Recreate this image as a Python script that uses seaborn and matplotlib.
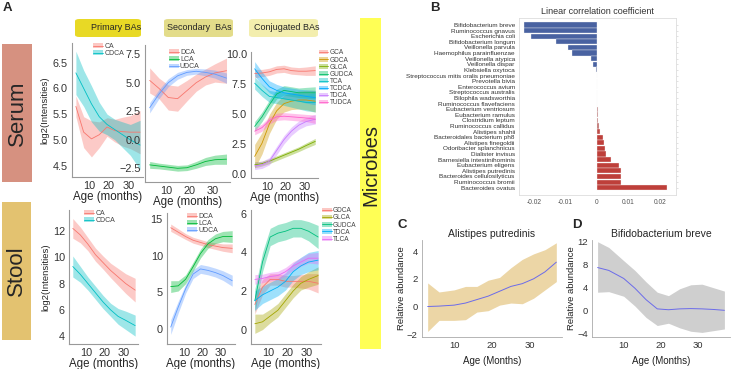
import numpy as np
import pandas as pd
import matplotlib
matplotlib.use("Agg")
import matplotlib.pyplot as plt
import seaborn as sns
from matplotlib.patches import FancyBboxPatch, Rectangle, Patch
from matplotlib.lines import Line2D

#-DATA------------------------------------------------------------------------------------------

age = [3, 7, 11, 15, 19, 23, 27, 31, 36]

# serum, primary BAs (mean and half width of the smoothing band)
serum_ca = [5.65, 5.15, 5.02, 5.1, 5.25, 5.18, 5.16, 5.15, 5.15]
serum_ca_hw = [0.2, 0.3, 0.35, 0.25, 0.18, 0.22, 0.28, 0.32, 0.42]
serum_cdca = [6.3, 6.0, 5.7, 5.45, 5.3, 5.2, 5.1, 5.0, 4.9]
serum_cdca_hw = [0.42, 0.35, 0.35, 0.28, 0.2, 0.2, 0.25, 0.3, 0.48]

# serum, secondary BAs
serum_dca = [5.2, 4.5, 3.7, 3.6, 4.3, 5.0, 5.5, 5.85, 6.05]
serum_dca_hw = [1.1, 0.9, 1.1, 1.1, 0.9, 0.75, 0.7, 0.8, 1.1]
serum_lca = [-2.2, -2.3, -2.4, -2.5, -2.45, -2.2, -1.9, -1.75, -1.7]
serum_lca_hw = [0.3, 0.25, 0.25, 0.25, 0.25, 0.3, 0.35, 0.4, 0.45]
serum_udca = [2.8, 4.0, 5.0, 5.6, 5.9, 6.0, 5.9, 5.75, 5.4]
serum_udca_hw = [0.45, 0.4, 0.35, 0.3, 0.25, 0.25, 0.3, 0.35, 0.45]

# serum, conjugated BAs
serum_gca = [8.4, 8.45, 8.55, 8.75, 8.8, 8.65, 8.6, 8.6, 8.65]
serum_gca_hw = [0.35, 0.3, 0.3, 0.3, 0.3, 0.3, 0.3, 0.35, 0.4]
serum_gdca = [1.5, 2.6, 4.2, 5.3, 5.9, 6.1, 6.2, 6.2, 6.1]
serum_gdca_hw = [1.0, 0.9, 0.8, 0.7, 0.7, 0.7, 0.75, 0.8, 0.9]
serum_glca = [0.8, 0.9, 1.1, 1.35, 1.6, 1.85, 2.1, 2.4, 2.75]
serum_glca_hw = [0.25, 0.2, 0.2, 0.2, 0.2, 0.2, 0.2, 0.22, 0.25]
serum_gudca = [4.0, 4.8, 5.8, 6.7, 7.0, 6.9, 6.8, 6.8, 6.8]
serum_gudca_hw = [0.4, 0.4, 0.4, 0.4, 0.4, 0.4, 0.4, 0.45, 0.5]
serum_tca = [7.6, 7.0, 6.5, 6.4, 6.3, 6.2, 6.1, 6.0, 6.0]
serum_tca_hw = [0.5, 0.5, 0.5, 0.5, 0.55, 0.6, 0.65, 0.7, 0.8]
serum_tcdca = [8.8, 8.0, 7.3, 7.0, 6.8, 6.7, 6.6, 6.5, 6.4]
serum_tcdca_hw = [0.6, 0.55, 0.5, 0.5, 0.5, 0.5, 0.5, 0.55, 0.6]
serum_tdca = [0.7, 0.8, 1.1, 2.0, 2.9, 3.6, 4.1, 4.4, 4.6]
serum_tdca_hw = [0.3, 0.3, 0.3, 0.35, 0.35, 0.35, 0.35, 0.35, 0.4]
serum_tudca = [3.6, 3.9, 4.5, 4.8, 4.85, 4.8, 4.75, 4.7, 4.6]
serum_tudca_hw = [0.3, 0.3, 0.3, 0.3, 0.3, 0.3, 0.3, 0.3, 0.35]

# stool, primary BAs
stool_ca = [12.2, 11.7, 11.0, 10.2, 9.6, 9.0, 8.5, 8.0, 7.5]
stool_ca_hw = [0.75, 0.6, 0.5, 0.5, 0.5, 0.55, 0.65, 0.75, 0.9]
stool_cdca = [9.3, 8.7, 8.0, 7.3, 6.6, 6.0, 5.5, 5.2, 4.8]
stool_cdca_hw = [0.8, 0.6, 0.5, 0.5, 0.5, 0.5, 0.6, 0.7, 0.8]

# stool, secondary BAs
stool_dca = [13.8, 13.2, 12.6, 12.1, 11.8, 11.5, 11.3, 11.1, 11.0]
stool_dca_hw = [0.5, 0.45, 0.4, 0.4, 0.4, 0.4, 0.45, 0.5, 0.6]
stool_lca = [5.8, 5.9, 6.8, 8.5, 10.3, 11.6, 12.3, 12.6, 12.6]
stool_lca_hw = [0.8, 0.7, 0.6, 0.6, 0.6, 0.6, 0.65, 0.7, 0.8]
stool_udca = [0.3, 3.0, 5.5, 7.5, 8.2, 8.0, 7.7, 7.3, 6.6]
stool_udca_hw = [1.0, 0.8, 0.6, 0.6, 0.6, 0.6, 0.6, 0.65, 0.75]

# stool, conjugated BAs
stool_gdca = [1.3, 2.2, 2.6, 2.6, 2.5, 2.5, 2.5, 2.5, 2.4]
stool_gdca_hw = [0.5, 0.4, 0.3, 0.3, 0.3, 0.3, 0.35, 0.4, 0.5]
stool_glca = [0.3, 0.4, 0.7, 1.0, 1.5, 2.0, 2.4, 2.6, 2.8]
stool_glca_hw = [0.5, 0.4, 0.35, 0.35, 0.35, 0.35, 0.35, 0.4, 0.45]
stool_gudca = [1.5, 3.5, 4.8, 5.0, 5.1, 5.25, 5.25, 5.1, 4.8]
stool_gudca_hw = [0.6, 0.5, 0.45, 0.45, 0.45, 0.45, 0.45, 0.5, 0.6]
stool_tdca = [1.5, 1.8, 2.0, 2.2, 2.5, 3.0, 3.3, 3.5, 3.6]
stool_tdca_hw = [0.5, 0.45, 0.45, 0.45, 0.45, 0.45, 0.45, 0.5, 0.5]
stool_tlca = [2.6, 2.65, 2.75, 2.8, 3.0, 3.3, 3.5, 3.7, 3.7]
stool_tlca_hw = [0.25, 0.22, 0.22, 0.22, 0.22, 0.22, 0.22, 0.25, 0.3]

# panel B
microbes = ["Bifidobacterium breve", "Ruminococcus gnavus", "Escherichia coli",
            "Bifidobacterium longum", "Veillonella parvula", "Haemophilus parainfluenzae",
            "Veillonella atypica", "Veillonella dispar", "Klebsiella oxytoca",
            "Streptococcus mitis oralis pneumoniae", "Prevotella bivia", "Enterococcus avium",
            "Streptococcus australis", "Bilophila wadsworthia", "Ruminococcus flavefaciens",
            "Eubacterium ventriosum", "Eubacterium ramulus", "Clostridium leptum",
            "Ruminococcus callidus", "Alistipes shahii", "Bacteroidales bacterium ph8",
            "Alistipes finegoldii", "Odoribacter splanchnicus", "Dialister invisus",
            "Barnesiella intestinihominis", "Eubacterium eligens", "Alistipes putredinis",
            "Bacteroides cellulosilyticus", "Ruminococcus bromii", "Bacteroides ovatus"]
corr = [-0.0233, -0.0231, -0.0210, -0.0129, -0.0091, -0.0079, -0.0018, -0.0013, -0.0004,
        -0.0001, -0.00008, -0.00005, -0.00003, -0.00001, 0.00001, 0.0002, 0.0003, 0.0004,
        0.0005, 0.0010, 0.0018, 0.0021, 0.0026, 0.0030, 0.0045, 0.0070, 0.0075, 0.0076,
        0.0075, 0.0223]

# panels C and D
age_cd = [3, 6, 10, 13, 16, 19, 22, 25, 28, 31, 34, 37]
alistipes = [0.0, 0.03, 0.1, 0.25, 0.5, 0.75, 1.1, 1.45, 1.65, 2.0, 2.5, 3.2]
alistipes_hi = [1.7, 1.05, 1.2, 1.45, 1.45, 1.9, 2.1, 2.8, 3.4, 3.8, 4.1, 4.6]
alistipes_lo = [-1.8, -1.0, -1.0, -0.95, -0.4, -0.3, 0.1, 0.25, 0.2, 0.6, 1.2, 1.8]
bifido = [7.5, 7.0, 5.6, 3.9, 1.9, 0.3, 0.15, 0.3, 0.35, 0.3, 0.2, 0.05]
bifido_hi = [12.0, 11.0, 8.7, 7.0, 5.0, 3.2, 2.6, 3.8, 4.5, 4.6, 4.0, 3.4]
bifido_lo = [3.2, 3.3, 2.5, 0.8, -1.2, -2.6, -2.2, -3.0, -3.6, -3.8, -3.5, -3.2]

#-FIGURE----------------------------------------------------------------------------------------

sns.set_style("white")
plt.rcParams["font.family"] = ["Liberation Sans", "DejaVu Sans"]

W, H = 738, 369
fig = plt.figure(figsize=(W / 100, H / 100), dpi=100)


def box(x0, y0, x1, y1):
    # pixel box (top-left origin) -> figure fraction rect
    return [x0 / W, 1 - y1 / H, (x1 - x0) / W, (y1 - y0) / H]


def fig_rect(x0, y0, x1, y1, color, rounded=False):
    l, b, w, h = box(x0, y0, x1, y1)
    if rounded:
        p = FancyBboxPatch((l, b), w, h, boxstyle="round,pad=0,rounding_size=0.006",
                           transform=fig.transFigure, facecolor=color, edgecolor="none")
    else:
        p = Rectangle((l, b), w, h, transform=fig.transFigure, facecolor=color, edgecolor="none")
    fig.patches.append(p)


def ribbon_panel(rect, names, means, widths, colors, ylim, yticks, ylabel=None,
                 legend_out=False, legend_pos=(0.05, 1.0)):
    ax = fig.add_axes(box(*rect))
    for m, hw, c in zip(means, widths, colors):
        m = np.array(m)
        hw = np.array(hw)
        ax.fill_between(age, m - hw, m + hw, color=c, alpha=0.38, lw=0)
    df = pd.DataFrame({"age": age * len(names),
                       "value": np.concatenate(means),
                       "acid": np.repeat(names, len(age))})
    sns.lineplot(data=df, x="age", y="value", hue="acid", hue_order=names,
                 palette=colors, lw=0.6, ax=ax, legend=False)
    ax.set_xlim(1, 37.5)
    ax.set_ylim(*ylim)
    ax.set_xticks([10, 20, 30])
    ax.set_yticks(yticks)
    ax.tick_params(labelsize=7.8, length=2, width=0.5, color="#555555", pad=1,
                   labelcolor="#333333")
    for s in ["top", "right"]:
        ax.spines[s].set_visible(False)
    for s in ["left", "bottom"]:
        ax.spines[s].set_color("#999999")
        ax.spines[s].set_linewidth(0.8)
    ax.set_xlabel("Age (months)", fontsize=8.3, labelpad=0)
    ax.set_ylabel(ylabel if ylabel else "", fontsize=6.8, labelpad=2)
    handles = [(Patch(facecolor=c, alpha=0.4, edgecolor="none"), Line2D([], [], color=c, lw=0.6))
               for c in colors]
    if legend_out:
        leg = ax.legend(handles, names, loc="upper left", bbox_to_anchor=(1.02, 1.02),
                        fontsize=4.7, frameon=False, handlelength=1.4, handleheight=0.7,
                        labelspacing=0.02, handletextpad=0.2, borderpad=0, borderaxespad=0)
    else:
        leg = ax.legend(handles, names, loc="upper left", bbox_to_anchor=legend_pos,
                        fontsize=5, frameon=False, handlelength=1.4, handleheight=0.7,
                        labelspacing=0.02, handletextpad=0.2, borderpad=0, borderaxespad=0)
    for t in leg.get_texts():
        t.set_color("#444444")
    return ax


pal2 = ["#F8766D", "#00BFC4"]
pal3 = ["#F8766D", "#00BA38", "#619CFF"]
pal5 = ["#F8766D", "#A3A500", "#00BF7D", "#00B0F6", "#E76BF3"]
pal8 = ["#F8766D", "#CD9600", "#7CAE00", "#00BE67", "#00BFC4", "#00A9FF", "#C77CFF", "#FF61CC"]

# side and header boxes
fig_rect(2, 44, 32, 182, "#d69180")
fig_rect(2, 202, 31, 340, "#e3c270")
fig_rect(360, 18, 381, 349, "#ffff55")
fig.text(17 / W, 1 - 113 / H, "Serum", rotation=90, fontsize=16, ha="center", va="center")
fig.text(16.5 / W, 1 - 271 / H, "Stool", rotation=90, fontsize=16, ha="center", va="center")
fig.text(370.5 / W, 1 - 165 / H, "Microbes", rotation=90, fontsize=14.5, ha="center", va="center")

fig_rect(75, 19, 141, 37, "#e8d925", rounded=True)
fig_rect(164, 19, 233, 37, "#e3dc8a", rounded=True)
fig_rect(249, 19, 318, 37, "#f3eeae", rounded=True)
fig.text(116 / W, 1 - 28 / H, "Primary BAs", fontsize=6.5, ha="center", va="center")
fig.text(199 / W, 1 - 28 / H, "Secondary  BAs", fontsize=6.5, ha="center", va="center")
fig.text(287 / W, 1 - 28 / H, "Conjugated BAs", fontsize=6.5, ha="center", va="center")

# panel A, serum row
ribbon_panel((72, 43, 143, 177), ["CA", "CDCA"], [serum_ca, serum_cdca],
             [serum_ca_hw, serum_cdca_hw], pal2, (4.28, 6.88), [4.5, 5.0, 5.5, 6.0, 6.5],
             ylabel="log2(Intensities)", legend_pos=(0.3, 1.0))
ribbon_panel((145, 45, 230, 182), ["DCA", "LCA", "UDCA"], [serum_dca, serum_lca, serum_udca],
             [serum_dca_hw, serum_lca_hw, serum_udca_hw], pal3, (-3.7, 8.3),
             [-2.5, 0.0, 2.5, 5.0, 7.5], legend_pos=(0.28, 0.97))
ribbon_panel((251, 52, 318, 178),
             ["GCA", "GDCA", "GLCA", "GUDCA", "TCA", "TCDCA", "TDCA", "TUDCA"],
             [serum_gca, serum_gdca, serum_glca, serum_gudca, serum_tca, serum_tcdca,
              serum_tdca, serum_tudca],
             [serum_gca_hw, serum_gdca_hw, serum_glca_hw, serum_gudca_hw, serum_tca_hw,
              serum_tcdca_hw, serum_tdca_hw, serum_tudca_hw],
             pal8, (-0.3, 10.2), [0.0, 2.5, 5.0, 7.5, 10.0], legend_out=True)

# panel A, stool row
ribbon_panel((69, 210, 138, 344), ["CA", "CDCA"], [stool_ca, stool_cdca],
             [stool_ca_hw, stool_cdca_hw], pal2, (3.4, 13.6), [4, 6, 8, 10, 12],
             ylabel="log2(Intensities)", legend_pos=(0.22, 1.0))
ribbon_panel((167, 213, 235, 344), ["DCA", "LCA", "UDCA"], [stool_dca, stool_lca, stool_udca],
             [stool_dca_hw, stool_lca_hw, stool_udca_hw], pal3, (-2.0, 15.8),
             [0, 5, 10, 15], legend_pos=(0.3, 1.0))
ribbon_panel((251, 210, 321, 344), ["GDCA", "GLCA", "GUDCA", "TDCA", "TLCA"],
             [stool_gdca, stool_glca, stool_gudca, stool_tdca, stool_tlca],
             [stool_gdca_hw, stool_glca_hw, stool_gudca_hw, stool_tdca_hw, stool_tlca_hw],
             pal5, (-0.75, 6.2), [0, 2, 4, 6], legend_out=True)

# panel B
axb = fig.add_axes(box(519, 18, 676, 195))
bar_colors = []
for v in corr:
    base = np.array([0.23, 0.36, 0.69]) if v < 0 else np.array([0.83, 0.17, 0.14])
    s = min(1.0, abs(v) / 0.0012)
    bar_colors.append(tuple(base * (0.35 + 0.65 * s) + np.array([0.75, 0.72, 0.75]) * (0.65 - 0.65 * s)))
dfb = pd.DataFrame({"microbe": microbes, "corr": corr})
sns.barplot(data=dfb, x="corr", y="microbe", hue="microbe", palette=bar_colors, dodge=False,
            legend=False, orient="h", width=0.92, edgecolor="#f4f4f4", linewidth=0.25, ax=axb)
axb.set_xlim(-0.0248, 0.0251)
axb.set_ylim(len(microbes) - 1 + 1.3, -1.25)
axb.set_xticks([-0.02, -0.01, 0, 0.01, 0.02])
axb.set_xticklabels(["-0.02", "-0.01", "0", "0.01", "0.02"])
axb.tick_params(axis="x", labelsize=4.8, length=0, pad=3, labelcolor="#555555")
axb.tick_params(axis="y", labelsize=4.6, left=False, right=True, length=1.5, width=0.4,
                color="#cccccc", pad=1.5, labelcolor="#333333")
for s in axb.spines.values():
    s.set_color("#dddddd")
    s.set_linewidth(0.6)
axb.set_xlabel("")
axb.set_ylabel("")
axb.set_title("Linear correlation coefficient", fontsize=6.5, pad=3, color="#333333")


def trend_panel(rect, ages, mean, lo, hi, band, title, ylim, yticks):
    ax = fig.add_axes(box(*rect))
    ax.fill_between(ages, lo, hi, color=band, lw=0)
    sns.lineplot(x=ages, y=mean, color="#6b6bea", lw=0.7, ax=ax)
    ax.set_xlim(1.5, 38.5)
    ax.set_ylim(*ylim)
    ax.set_xticks([10, 20, 30])
    ax.set_yticks(yticks)
    ax.tick_params(labelsize=6.8, length=2, width=0.5, color="#888888", pad=1,
                   labelcolor="#333333")
    for s in ["top", "right"]:
        ax.spines[s].set_visible(False)
    for s in ["left", "bottom"]:
        ax.spines[s].set_color("#aaaaaa")
        ax.spines[s].set_linewidth(0.6)
    ax.set_title(title, fontsize=7.5, pad=2)
    ax.set_xlabel("Age (Months)", fontsize=7, labelpad=4, color="#222222")
    ax.set_ylabel("Relative abundance", fontsize=6.8, labelpad=1, color="#222222")
    return ax


trend_panel((422, 240, 562, 337), age_cd, alistipes, alistipes_lo, alistipes_hi, "#ecd6a6",
            "Alistipes putredinis", (-2.2, 4.8), [-2, 0, 2, 4])
trend_panel((592, 240, 730, 337), age_cd, bifido, bifido_lo, bifido_hi, "#cfcfcf",
            "Bifidobacterium breve", (-4.6, 12.3), [-4, 0, 4, 8, 12])

# panel letters
for x, y, t in [(3, 8, "A"), (430, 8, "B"), (397, 225, "C"), (572, 225, "D")]:
    fig.text(x / W, 1 - y / H, t, fontsize=9.5, fontweight="bold", ha="left", va="center")

fig.savefig("out.png", dpi=100)
